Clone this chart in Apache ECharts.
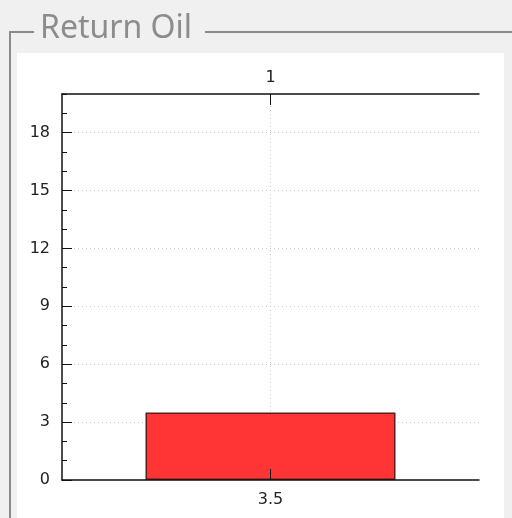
<!DOCTYPE html>
<html>
<head>
<meta charset="utf-8">
<script src="https://cdn.jsdelivr.net/npm/echarts@6/dist/echarts.min.js"></script>
<style>
  html, body { margin: 0; padding: 0; background: #f0f0f0; }
  #chart { width: 512px; height: 518px; }
</style>
</head>
<body>
<div id="chart"></div>
<script>
// data
var title = 'Return Oil';
var indexLabels = ['1'];     // top axis
var barValues = [3.5];       // bar heights, also shown on bottom axis
var barPositions = [1];      // bar centre on the x scale

var chart = echarts.init(document.getElementById('chart'));

var seriesData = [];
for (var i = 0; i < barValues.length; i++) {
    seriesData.push([barPositions[i], barValues[i]]);
}

var labelFont = { color: '#222', fontSize: 16, fontFamily: 'DejaVu Sans' };
var gridLine = { color: '#c8c8c8', type: [1, 3] };

var option = {
    backgroundColor: '#f0f0f0',
    animation: false,
    grid: { left: 62, top: 94, right: 33, bottom: 38 },
    graphic: [
        // white panel
        { type: 'rect', z: -10, shape: { x: 17, y: 53, width: 487, height: 470 }, style: { fill: '#ffffff' } },
        // group box frame
        { type: 'line', z: -5, shape: { x1: 10, y1: 32, x2: 34, y2: 32 }, style: { stroke: '#8a8a8a', lineWidth: 2 } },
        { type: 'line', z: -5, shape: { x1: 205, y1: 32, x2: 512, y2: 32 }, style: { stroke: '#8a8a8a', lineWidth: 2 } },
        { type: 'line', z: -5, shape: { x1: 10, y1: 31, x2: 10, y2: 518 }, style: { stroke: '#8a8a8a', lineWidth: 2 } },
        { type: 'text', left: 40, top: 13, style: { text: title, fill: '#8c8c8c', fontSize: 32, fontFamily: 'Noto Sans' } }
    ],
    xAxis: [{
        // bottom axis: bar values
        type: 'value', position: 'bottom', min: 0, max: 2, interval: 1, z: 5,
        axisLine: { show: true, onZero: false, lineStyle: { color: '#111', width: 1.5 } },
        axisTick: { show: true, inside: true, length: 11, customValues: barPositions, lineStyle: { color: '#111' } },
        axisLabel: {
            customValues: barPositions, margin: 12, color: labelFont.color, fontSize: labelFont.fontSize, fontFamily: labelFont.fontFamily,
            formatter: function(v) {
                var k = barPositions.indexOf(v);
                return k >= 0 ? barValues[k].toFixed(1) : '';
            }
        },
        splitLine: { show: false }
    }, {
        // top axis: bar index
        type: 'value', position: 'top', min: 0, max: 2, interval: 1, z: 5,
        axisLine: { show: true, onZero: false, lineStyle: { color: '#111', width: 1.5 } },
        axisTick: { show: true, inside: true, length: 11, customValues: barPositions, lineStyle: { color: '#111' } },
        axisLabel: {
            customValues: barPositions, margin: 8, color: labelFont.color, fontSize: labelFont.fontSize, fontFamily: labelFont.fontFamily,
            formatter: function(v) {
                var k = barPositions.indexOf(v);
                return k >= 0 ? indexLabels[k] : '';
            }
        },
        splitLine: { show: false }
    }, {
        // vertical grid line only, behind the bar
        type: 'value', position: 'bottom', min: 0, max: 2, interval: 1, z: 0,
        axisLine: { show: false },
        axisTick: { show: false },
        axisLabel: { show: false },
        splitLine: { show: true, showMinLine: false, showMaxLine: false, lineStyle: gridLine }
    }],
    yAxis: [{
        type: 'value', position: 'left', min: 0, max: 20, interval: 3,
        axisLine: { show: true, onZero: false, lineStyle: { color: '#111', width: 1.5 } },
        axisTick: { show: true, inside: true, length: 10, lineStyle: { color: '#111' } },
        axisLabel: { showMaxLabel: false, margin: 12, color: labelFont.color, fontSize: labelFont.fontSize, fontFamily: labelFont.fontFamily },
        splitLine: { show: true, showMinLine: false, showMaxLine: false, lineStyle: gridLine }
    }, {
        type: 'value', position: 'left', offset: 0, min: 0, max: 20, interval: 1,
        axisLine: { show: false, onZero: false },
        axisTick: { show: true, inside: true, length: 5, lineStyle: { color: '#111' } },
        axisLabel: { show: false },
        splitLine: { show: false }
    }],
    series: [{
        type: 'bar',
        xAxisIndex: 0,
        yAxisIndex: 0,
        barWidth: 250,
        data: seriesData,
        itemStyle: { color: '#ff3434', borderColor: '#5e1c1c', borderWidth: 1.5 }
    }]
};

chart.setOption(option);
</script>
</body>
</html>
